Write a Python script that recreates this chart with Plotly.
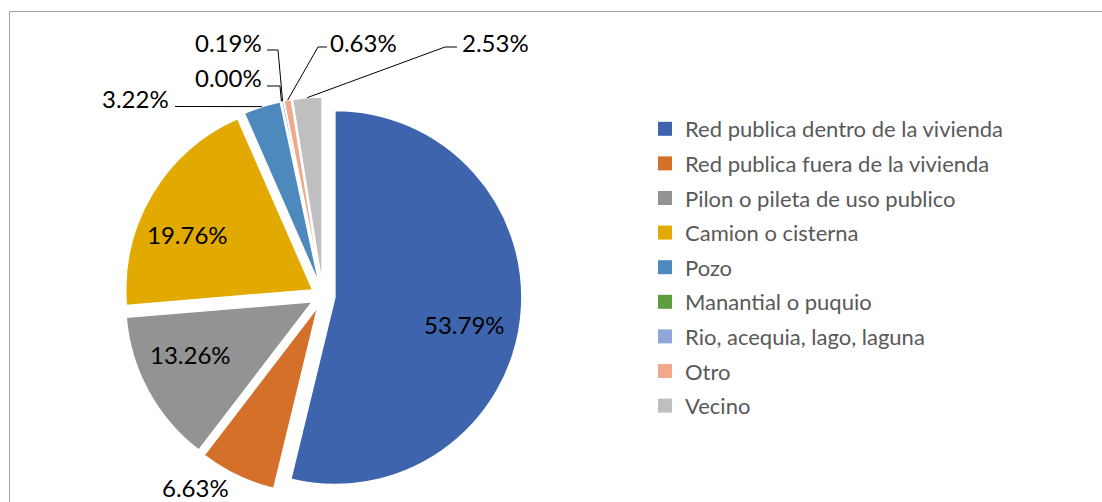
import math
import plotly.graph_objects as go

# ---------------- data ----------------
categories = [
    "Red publica dentro de la vivienda",
    "Red publica fuera de la vivienda",
    "Pilon o pileta de uso publico",
    "Camion o cisterna",
    "Pozo",
    "Manantial o puquio",
    "Rio, acequia, lago, laguna",
    "Otro",
    "Vecino",
]
values = [53.79, 6.63, 13.26, 19.76, 3.22, 0.00, 0.19, 0.63, 2.53]
colors = ["#3D64AD", "#D4702A", "#939393", "#E2AA00", "#4E89BD",
          "#5F9B3F", "#8EA6D8", "#F2A98B", "#BFBFBF"]

# ---------------- layout / style ----------------
W, H = 1102, 502
CX, CY, R = 323, 296, 187          # pie centre and radius (px)
PULL = 0.064                        # explosion of every slice
FONT = "Lato"
LABEL_SIZE = 24
LEGEND_SIZE = 22

# label placement: inside slices (radial fraction, angular shift in degrees)
inside = {0: (0.71, 5.0), 2: (0.71, 5.0), 3: (0.73, -7.0)}
# outside labels: text centre + elbow points of the leader line (px)
outside = {
    1: dict(pos=(195, 487), line=None),
    4: dict(pos=(135, 98), line=[(175, 106.5)]),
    5: dict(pos=(228, 78), line=[(267, 86), (280, 86)]),
    6: dict(pos=(228, 42), line=[(267, 50), (278, 50)]),
    7: dict(pos=(363, 42), line=[(327, 47), (318, 47)]),
    8: dict(pos=(495, 42), line=[(457, 47), (445, 47)]),
}


def px2paper(x, y):
    return x / W, 1 - y / H


half = R * (1 + PULL)
dom_x = [(CX - half) / W, (CX + half) / W]
dom_y = [1 - (CY + half) / H, 1 - (CY - half) / H]

fig = go.Figure()
fig.add_trace(go.Pie(
    labels=categories, values=values, sort=False, direction="clockwise",
    rotation=0, pull=PULL, textinfo="none", hoverinfo="label+percent",
    marker=dict(colors=colors, line=dict(color="white", width=1.5)),
    domain=dict(x=dom_x, y=dom_y), showlegend=False,
))

# legend entries (one per category)
for i, (cat, col) in enumerate(zip(categories, colors)):
    fig.add_trace(go.Scatter(
        x=[None], y=[None], mode="markers", name=cat, legendgroup=str(i),
        marker=dict(symbol="square", size=14, color=col, line=dict(width=0)),
        showlegend=True, hoverinfo="skip",
    ))

# slice geometry from the data
total = sum(values)
cum = 0.0
annotations = []
shapes = []
for i, v in enumerate(values):
    mid = 360.0 * (cum + v / 2) / total
    cum += v
    s, c = math.sin(math.radians(mid)), math.cos(math.radians(mid))
    ax, ay = CX + PULL * R * s, CY - PULL * R * c      # slice apex
    text = f"{v:.2f}%"
    if i in inside:
        f, shift = inside[i]
        a = math.radians(mid + shift)
        tx, ty = ax + f * R * math.sin(a), ay - f * R * math.cos(a)
    else:
        tx, ty = outside[i]["pos"]
        pts = outside[i]["line"]
        if pts:
            ex, ey = ax + R * s, ay - R * c                # point on slice edge
            path_pts = pts + [(ex, ey)]
            d = ""
            for k, (x, y) in enumerate(path_pts):
                px_, py_ = px2paper(x, y)
                d += ("M" if k == 0 else " L") + f" {px_:.5f},{py_:.5f}"
            shapes.append(dict(type="path", path=d, xref="paper", yref="paper",
                               line=dict(color="black", width=1)))
    xp, yp = px2paper(tx, ty)
    annotations.append(dict(x=xp, y=yp, xref="paper", yref="paper", text=text,
                            showarrow=False, xanchor="center", yanchor="middle",
                            font=dict(family=FONT, size=LABEL_SIZE, color="black")))

# outer chart frame
fx0, fy0 = px2paper(9.5, 11.5)
shapes.append(dict(type="rect", xref="paper", yref="paper", x0=fx0, y0=fy0,
                   x1=1.02, y1=-0.02, line=dict(color="#A0A0A0", width=1),
                   fillcolor="rgba(0,0,0,0)", layer="below"))

lx, ly = px2paper(645, 267.5)
fig.update_layout(
    width=W, height=H, margin=dict(l=0, r=0, t=0, b=0),
    paper_bgcolor="white", plot_bgcolor="white",
    xaxis=dict(visible=False), yaxis=dict(visible=False),
    annotations=annotations, shapes=shapes,
    legend=dict(x=lx, y=ly, xanchor="left", yanchor="middle",
                font=dict(family=FONT, size=LEGEND_SIZE, color="#595959"),
                tracegroupgap=3, bgcolor="rgba(0,0,0,0)"),
    showlegend=True,
)

fig.write_html("out.html", config={"displayModeBar": False},
               post_script="document.body.style.margin='0px';")
